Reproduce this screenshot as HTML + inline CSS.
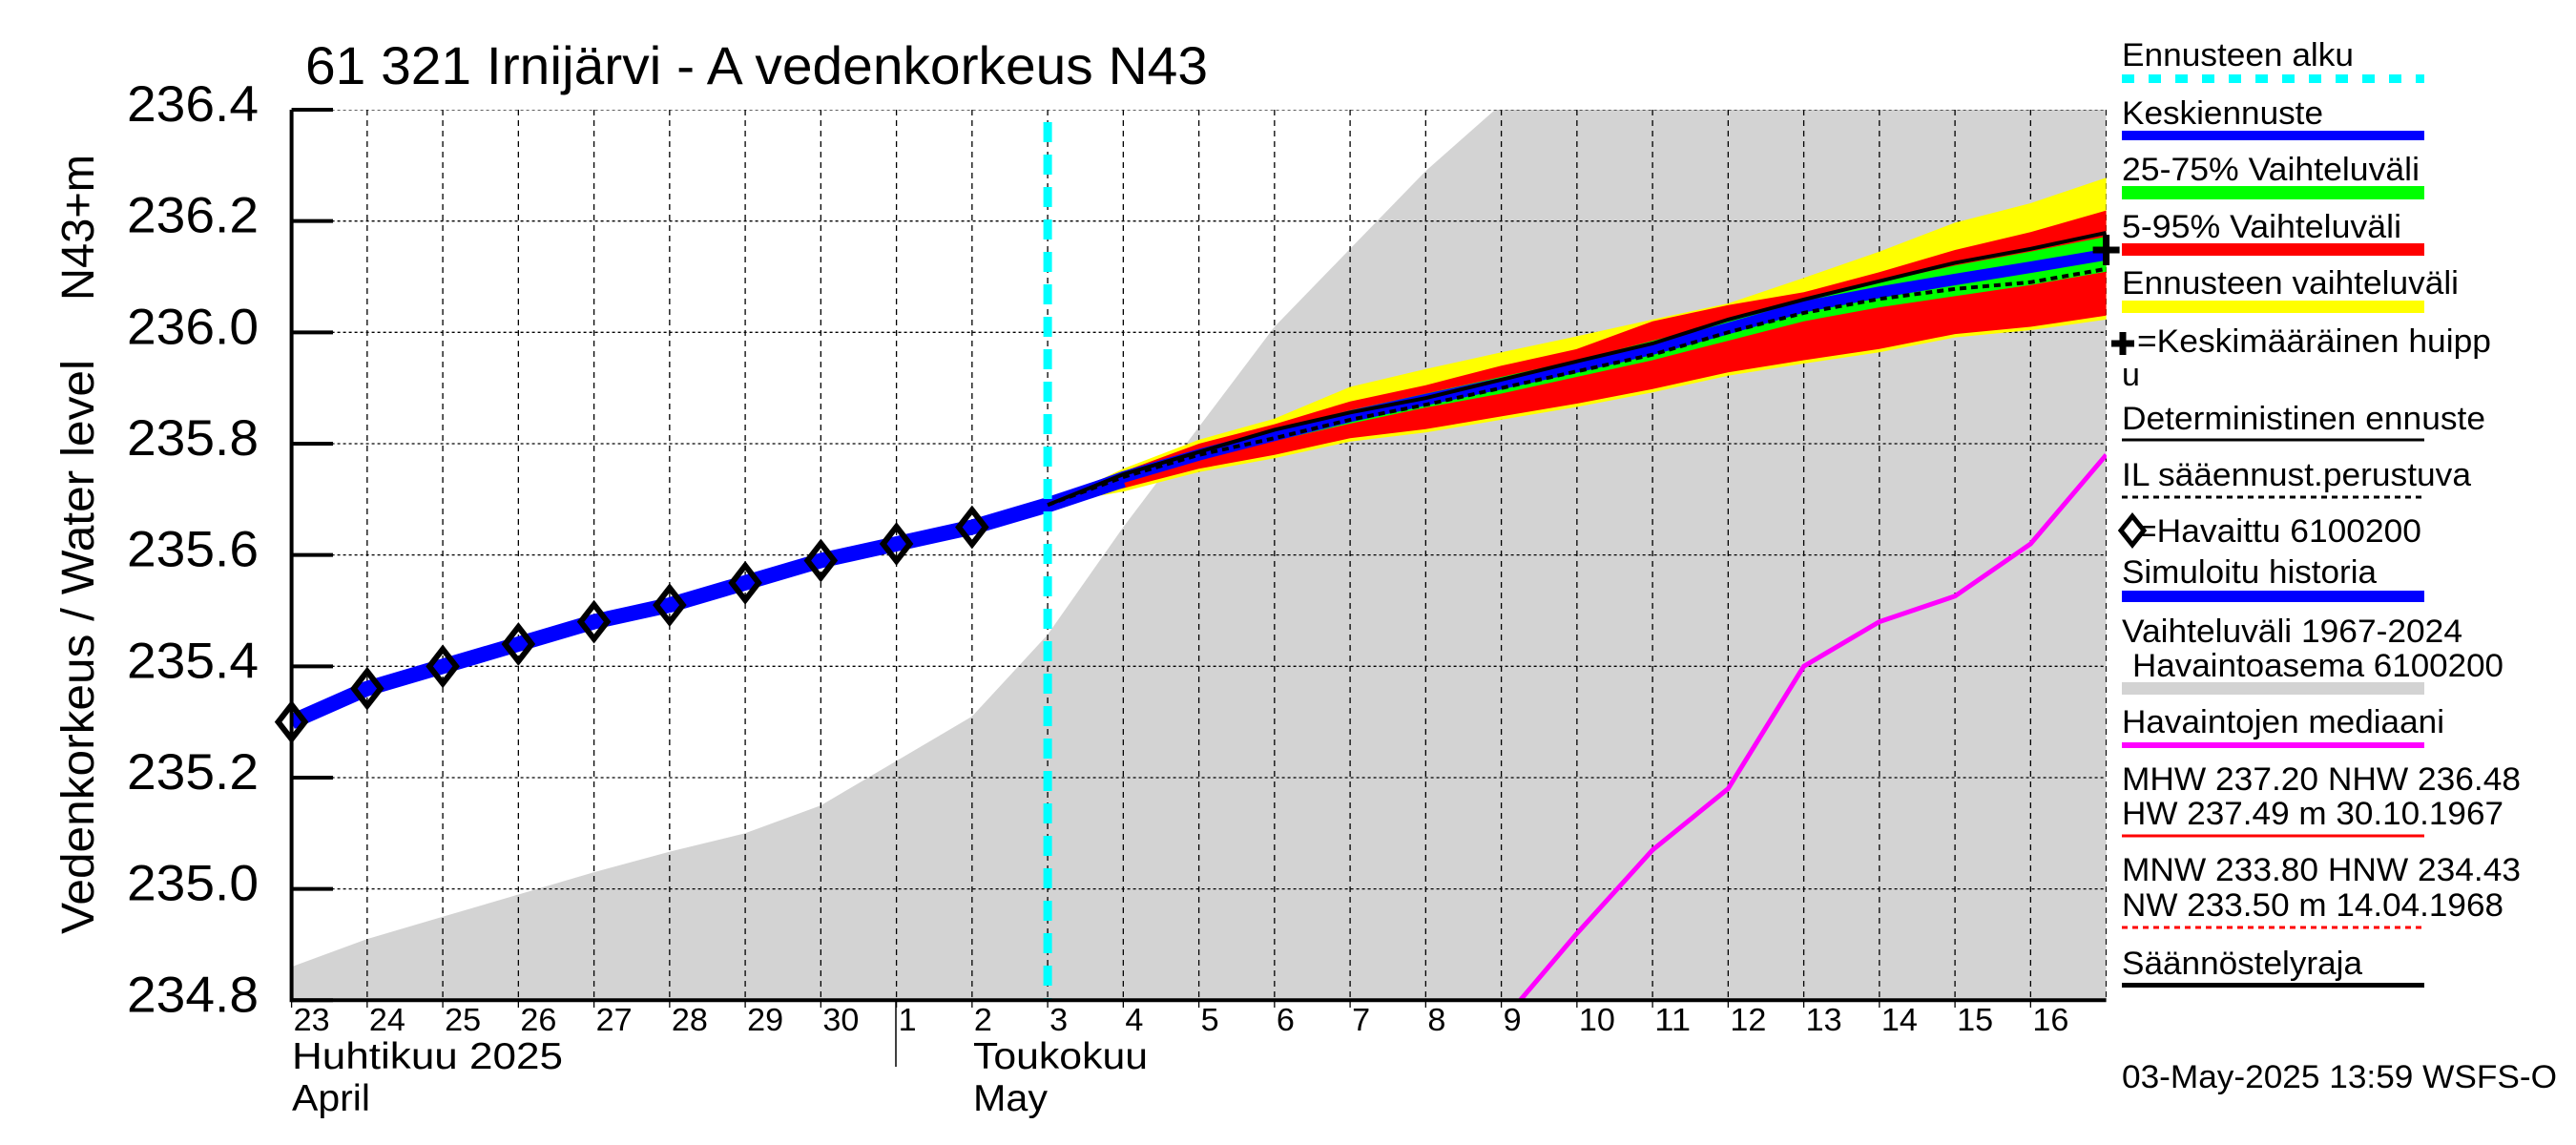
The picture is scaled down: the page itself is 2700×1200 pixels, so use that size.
<!DOCTYPE html>
<html><head><meta charset="utf-8">
<style>
html,body{margin:0;padding:0;background:#fff;}
svg{display:block;}
text{font-family:"Liberation Sans",sans-serif;fill:#000;}
</style></head>
<body>
<svg id="chart" width="2700" height="1200" viewBox="0 0 2700 1200" xmlns="http://www.w3.org/2000/svg">
<defs><clipPath id="plotclip"><rect x="305" y="115" width="1903" height="933"/></clipPath></defs>
<g id="plot" clip-path="url(#plotclip)"></g>
<g id="axes"></g>
<text x="320" y="88" font-size="56" textLength="946" lengthAdjust="spacingAndGlyphs">61 321 Irnijärvi - A vedenkorkeus N43</text>
<text transform="translate(98,979) rotate(-90)" font-size="48" textLength="602" lengthAdjust="spacingAndGlyphs">Vedenkorkeus / Water level</text>
<text transform="translate(98,315) rotate(-90)" font-size="48" textLength="153" lengthAdjust="spacingAndGlyphs">N43+m</text>
<text x="306" y="1120" font-size="39" textLength="284" lengthAdjust="spacingAndGlyphs">Huhtikuu  2025</text>
<text x="306" y="1164" font-size="39" textLength="82" lengthAdjust="spacingAndGlyphs">April</text>
<text x="1020" y="1120" font-size="39" textLength="183" lengthAdjust="spacingAndGlyphs">Toukokuu</text>
<text x="1020" y="1164" font-size="39" textLength="78" lengthAdjust="spacingAndGlyphs">May</text>
<line x1="939" y1="1048" x2="939" y2="1118" stroke="#000" stroke-width="1.5"/>
<g id="legend">
 <text x="2224" y="69" font-size="34" textLength="243" lengthAdjust="spacingAndGlyphs">Ennusteen alku</text>
 <line x1="2224" y1="82.5" x2="2541" y2="82.5" stroke="#00ffff" stroke-width="9" stroke-dasharray="13 15"/>
 <text x="2224" y="130" font-size="34" textLength="211" lengthAdjust="spacingAndGlyphs">Keskiennuste</text>
 <rect x="2224" y="137" width="317" height="10" fill="#0000ff"/>
 <text x="2224" y="189" font-size="34" textLength="312" lengthAdjust="spacingAndGlyphs">25-75% Vaihteluväli</text>
 <rect x="2224" y="195" width="317" height="14" fill="#00ff00"/>
 <text x="2224" y="249" font-size="34" textLength="293" lengthAdjust="spacingAndGlyphs">5-95% Vaihteluväli</text>
 <rect x="2224" y="255" width="317" height="13" fill="#ff0000"/>
 <text x="2224" y="308" font-size="34" textLength="353" lengthAdjust="spacingAndGlyphs">Ennusteen vaihteluväli</text>
 <rect x="2224" y="315" width="317" height="13" fill="#ffff00"/>
 <path d="M2213 360 h24 M2225 348 v24" stroke="#000" stroke-width="7"/>
 <text x="2240" y="369" font-size="34" textLength="371" lengthAdjust="spacingAndGlyphs">=Keskimääräinen huipp</text>
 <text x="2224" y="404" font-size="34">u</text>
 <text x="2224" y="450" font-size="34" textLength="381" lengthAdjust="spacingAndGlyphs">Deterministinen ennuste</text>
 <line x1="2224" y1="461" x2="2541" y2="461" stroke="#000" stroke-width="3"/>
 <text x="2224" y="509" font-size="34" textLength="366" lengthAdjust="spacingAndGlyphs">IL sääennust.perustuva</text>
 <line x1="2224" y1="521" x2="2541" y2="521" stroke="#000" stroke-width="3" stroke-dasharray="6 5"/>
 <path d="M2223 556 l12 -15 l12 15 l-12 15 z" fill="none" stroke="#000" stroke-width="5"/>
 <text x="2240" y="568" font-size="34" textLength="298" lengthAdjust="spacingAndGlyphs">=Havaittu 6100200</text>
 <text x="2224" y="611" font-size="34" textLength="267" lengthAdjust="spacingAndGlyphs">Simuloitu historia</text>
 <rect x="2224" y="619" width="317" height="12" fill="#0000ff"/>
 <text x="2224" y="673" font-size="34" textLength="357" lengthAdjust="spacingAndGlyphs">Vaihteluväli 1967-2024</text>
 <text x="2235" y="709" font-size="34" textLength="389" lengthAdjust="spacingAndGlyphs">Havaintoasema 6100200</text>
 <rect x="2224" y="715" width="317" height="13" fill="#d3d3d3"/>
 <text x="2224" y="768" font-size="34" textLength="338" lengthAdjust="spacingAndGlyphs">Havaintojen mediaani</text>
 <rect x="2224" y="778" width="317" height="6" fill="#ff00ff"/>
 <text x="2224" y="828" font-size="34" textLength="418" lengthAdjust="spacingAndGlyphs">MHW 237.20 NHW 236.48</text>
 <text x="2224" y="864" font-size="34" textLength="400" lengthAdjust="spacingAndGlyphs">HW 237.49 m 30.10.1967</text>
 <line x1="2224" y1="876" x2="2541" y2="876" stroke="#ff0000" stroke-width="3"/>
 <text x="2224" y="923" font-size="34" textLength="418" lengthAdjust="spacingAndGlyphs">MNW 233.80 HNW 234.43</text>
 <text x="2224" y="960" font-size="34" textLength="400" lengthAdjust="spacingAndGlyphs">NW 233.50 m 14.04.1968</text>
 <line x1="2224" y1="972" x2="2541" y2="972" stroke="#ff0000" stroke-width="3" stroke-dasharray="6 5"/>
 <text x="2224" y="1021" font-size="34" textLength="252" lengthAdjust="spacingAndGlyphs">Säännöstelyraja</text>
 <rect x="2224" y="1030" width="317" height="5" fill="#000"/>
</g>
<text x="2224" y="1140" font-size="34" textLength="456" lengthAdjust="spacingAndGlyphs">03-May-2025 13:59 WSFS-O</text>
</svg>
<script>
// ---- data ----
const dayLabels = ["23","24","25","26","27","28","29","30","1","2","3","4","5","6","7","8","9","10","11","12","13","14","15","16"];
const yTicks = [234.8, 235.0, 235.2, 235.4, 235.6, 235.8, 236.0, 236.2, 236.4];
// observed (day index 0 = Apr 23)
const obsDays = [0,1,2,3,4,5,6,7,8,9];
const obsValues = [235.30,235.36,235.40,235.44,235.48,235.51,235.55,235.59,235.62,235.65];
const simDays = [0,1,2,3,4,5,6,7,8,9,10,11];
const simValues = [235.30,235.36,235.40,235.44,235.48,235.51,235.55,235.59,235.62,235.65,235.69,235.735];
// historical range upper bound
const rangeDays = [0,1,2,3,4,5,6,7,8,9,10,11,12,13,14,15,16,17,24];
const rangeUpper = [234.86,234.91,234.95,234.99,235.03,235.067,235.10,235.15,235.23,235.31,235.457,235.65,235.83,236.01,236.15,236.29,236.41,236.6,236.6];
// median
const medDays = [16,17,18,19,20,21,22,23,24];
const medValues = [234.76,234.92,235.07,235.18,235.40,235.48,235.526,235.62,235.78];
// forecast (day index 10 = May 3 ... 24 = May 17)
const fcDays = [10,11,12,13,14,15,16,17,18,19,20,21,22,23,24];
const fcMean = [235.69,235.74,235.78,235.815,235.849,235.879,235.908,235.938,235.97,236.007,236.046,236.072,236.095,236.117,236.14];
const fcDet = [235.69,235.745,235.785,235.825,235.856,235.882,235.915,235.948,235.98,236.023,236.059,236.092,236.125,236.15,236.179];
const fcIL = [235.69,235.74,235.78,235.81,235.843,235.87,235.90,235.93,235.96,236.0,236.035,236.06,236.078,236.09,236.114];
const fcG75 = [235.69,235.745,235.79,235.825,235.86,235.89,235.92,235.95,235.985,236.02,236.06,236.09,236.12,236.145,236.172];
const fcG25 = [235.69,235.735,235.772,235.805,235.836,235.865,235.89,235.92,235.95,235.985,236.02,236.045,236.065,236.085,236.109];
const fcR95 = [235.69,235.75,235.80,235.835,235.876,235.905,235.94,235.97,236.02,236.049,236.072,236.108,236.148,236.18,236.219];
const fcR5 = [235.69,235.72,235.755,235.78,235.81,235.826,235.849,235.872,235.898,235.928,235.95,235.97,235.997,236.01,236.03];
const fcYmax = [235.69,235.755,235.807,235.845,235.902,235.934,235.964,235.993,236.023,236.052,236.098,236.145,236.197,236.232,236.278];
const fcYmin = [235.69,235.714,235.749,235.774,235.804,235.82,235.843,235.866,235.892,235.922,235.944,235.964,235.991,236.004,236.023];
const peakDay = [24];
const peakValue = [236.148];
const forecastStartDay = 10;

// ---- scales ----
const X0=305.6, DW=79.25, Y0=1048.3, YT=115, VMIN=234.8, VMAX=236.4;
const xs = d => X0 + d*DW;
const ys = v => Y0 - (v-VMIN)/(VMAX-VMIN)*(Y0-YT);
const NS="http://www.w3.org/2000/svg";
const plot=document.getElementById('plot'), axes=document.getElementById('axes');
function mk(tag, attrs, parent){const e=document.createElementNS(NS,tag);for(const k in attrs)e.setAttribute(k,attrs[k]);parent.appendChild(e);return e;}
const pts=(ds,vs)=>ds.map((d,i)=>xs(d).toFixed(1)+','+ys(vs[i]).toFixed(1));
function band(up,lo){return 'M'+pts(fcDays,up).join(' L')+' L'+pts(fcDays,lo).reverse().join(' L')+' Z';}

// gray historical range
let e=mk('path',{d:'M'+pts(rangeDays,rangeUpper).join(' L')+` L${xs(24)},1060 L${xs(0)},1060 Z`,fill:'#d3d3d3'},plot);



// grid
for(let i=1;i<=24;i++){
  e=mk('line',{x1:xs(i),y1:YT,x2:xs(i),y2:Y0,stroke:'#000','stroke-width':1.3,'stroke-dasharray':'6 5'},plot);
  
  
}
yTicks.forEach(v=>{
  e=mk('line',{x1:X0,y1:ys(v),x2:xs(24),y2:ys(v),stroke:'#000','stroke-width':1.3,'stroke-dasharray':'3 3'},plot);
  
  
});

// forecast bands
[[fcYmax,fcYmin,'#ffff00','forecast-range-band'],[fcR95,fcR5,'#ff0000','band-5-95'],[fcG75,fcG25,'#00ff00','band-25-75']].forEach(b=>{
  e=mk('path',{d:band(b[0],b[1]),fill:b[2]},plot);
  
  
});

// median
e=mk('polyline',{points:pts(medDays,medValues).join(' '),fill:'none',stroke:'#ff00ff','stroke-width':5},plot);



// simulated history
e=mk('polyline',{points:pts(simDays,simValues).join(' '),fill:'none',stroke:'#0000ff','stroke-width':16},plot);



// mean forecast
e=mk('polyline',{points:pts(fcDays,fcMean).join(' '),fill:'none',stroke:'#0000ff','stroke-width':12},plot);


e=mk('polyline',{points:pts(fcDays,fcIL).join(' '),fill:'none',stroke:'#000','stroke-width':4,'stroke-dasharray':'7 5'},plot);


e=mk('polyline',{points:pts(fcDays,fcDet).join(' '),fill:'none',stroke:'#000','stroke-width':4},plot);



// forecast start
e=mk('line',{x1:xs(forecastStartDay),y1:128,x2:xs(forecastStartDay),y2:Y0,stroke:'#00ffff','stroke-width':9,'stroke-dasharray':'21 13'},plot);



// observed markers
obsDays.forEach((d,i)=>{
  const x=xs(d), y=ys(obsValues[i]);
  e=mk('path',{d:`M${x} ${y-18} L${x+14} ${y} L${x} ${y+18} L${x-14} ${y} Z`,fill:'none',stroke:'#000','stroke-width':6},axes);
  
  
});

// peak marker
peakDay.forEach((d,i)=>{
  const x=xs(d), y=ys(peakValue[i]);
  e=mk('path',{d:`M${x-14} ${y} h28 M${x} ${y-16} v32`,stroke:'#000','stroke-width':7},axes);
  
  
});

// axes
e=mk('line',{x1:X0,y1:YT,x2:X0,y2:Y0+2,stroke:'#000','stroke-width':4},axes);


e=mk('line',{x1:X0,y1:Y0,x2:xs(24),y2:Y0,stroke:'#000','stroke-width':4},axes);


yTicks.forEach(v=>{
  e=mk('line',{x1:X0,y1:ys(v),x2:349,y2:ys(v),stroke:'#000','stroke-width':4},axes);
  
  
  e=mk('text',{x:271,y:ys(v)+12,'font-size':53,'text-anchor':'end',textLength:138,lengthAdjust:'spacingAndGlyphs'},axes);
  e.textContent=v.toFixed(1);
  
  
});
dayLabels.forEach((t,i)=>{
  e=mk('line',{x1:xs(i),y1:Y0,x2:xs(i),y2:1056,stroke:'#000','stroke-width':1.3},axes);
  
  
  e=mk('text',{x:xs(i)+2,y:1080,'font-size':33,textLength:t.length*19,lengthAdjust:'spacingAndGlyphs'},axes);
  e.textContent=t;
  
  
});
</script>
</body></html>
